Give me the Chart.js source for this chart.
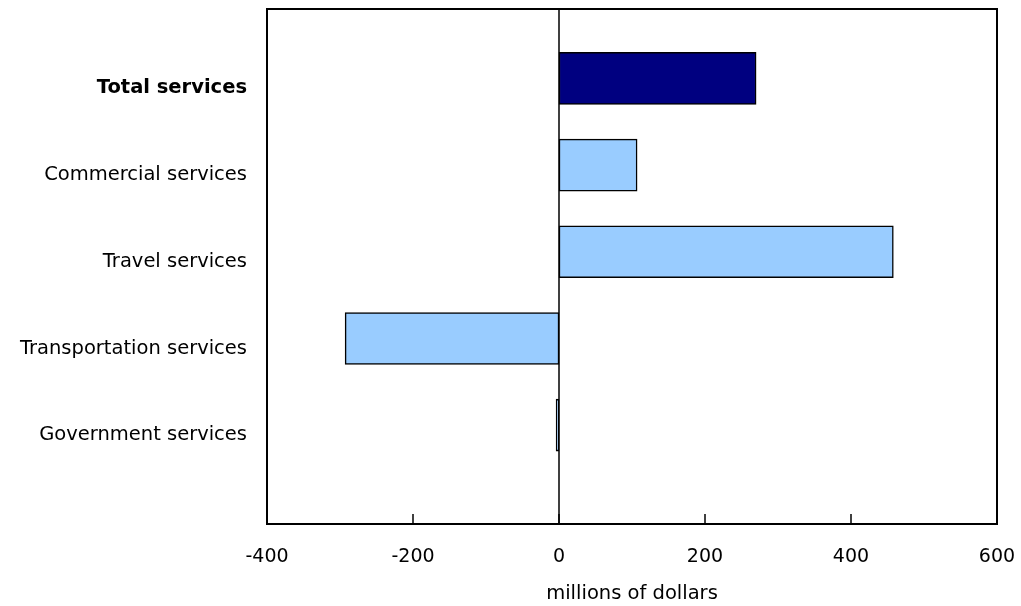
<!DOCTYPE html>
<html>
<head>
<meta charset="utf-8">
<script src="https://cdn.jsdelivr.net/npm/chart.js@4"></script>
<style>
  html, body { margin: 0; padding: 0; background: #fff; }
  #wrap { width: 1021px; height: 606px; }
</style>
</head>
<body>
<div id="wrap"><canvas id="servicesChart"></canvas></div>
<script>
const categories = ['Total services', 'Commercial services', 'Travel services', 'Transportation services', 'Government services'];
const values = [270, 107, 458, -293, -4];
const barColors = ['#000080', '#99ccff', '#99ccff', '#99ccff', '#99ccff'];
const xTicks = [-400, -200, 0, 200, 400, 600];
const axisTitle = 'millions of dollars';

const font = 'DejaVu Sans, Verdana, sans-serif';

// frame, zero line and inward tick marks
const framePlugin = {
    id: 'frame',
    afterDatasetsDraw(chart) {
        const { ctx, chartArea: a, scales } = chart;
        ctx.save();
        ctx.strokeStyle = '#000';
        ctx.lineWidth = 1.5;
        const x0 = scales.x.getPixelForValue(0);
        ctx.beginPath();
        ctx.moveTo(x0, a.top);
        ctx.lineTo(x0, a.bottom);
        ctx.stroke();
        xTicks.forEach(v => {
            if (v === xTicks[0] || v === xTicks[xTicks.length - 1]) return;
            const px = scales.x.getPixelForValue(v);
            ctx.beginPath();
            ctx.moveTo(px, a.bottom);
            ctx.lineTo(px, a.bottom - 10);
            ctx.stroke();
        });
        ctx.lineWidth = 2;
        ctx.strokeRect(a.left, a.top, a.right - a.left, a.bottom - a.top);
        ctx.restore();
    }
};

new Chart(document.getElementById('servicesChart'), {
    type: 'bar',
    data: {
        datasets: [{
            data: values.map((v, i) => ({ x: v, y: i })),
            backgroundColor: barColors,
            borderColor: '#000',
            borderWidth: 1.5,
            borderSkipped: false,
            barThickness: 52
        }]
    },
    options: {
        indexAxis: 'y',
        responsive: true,
        maintainAspectRatio: false,
        animation: false,
        layout: { padding: { top: 9, right: 24, left: 0, bottom: 0 } },
        plugins: { legend: { display: false }, tooltip: { enabled: false } },
        scales: {
            x: {
                type: 'linear',
                min: -400,
                max: 600,
                afterBuildTicks: s => { s.ticks = xTicks.map(v => ({ value: v })); },
                afterFit: s => { s.paddingLeft = 0; s.paddingRight = 0; s.height = 82; },
                grid: { display: false },
                border: { display: false },
                ticks: { color: '#000', font: { family: font, size: 19 }, padding: 14 },
                title: { display: true, text: axisTitle, color: '#000', font: { family: font, size: 19.5 }, padding: { top: 5, bottom: 0 } }
            },
            y: {
                type: 'linear',
                reverse: true,
                offset: false,
                min: -0.8,
                max: 5.14,
                afterBuildTicks: s => { s.ticks = categories.map((c, i) => ({ value: i })); },
                afterFit: s => { s.width = 267; s.paddingTop = 0; s.paddingBottom = 0; },
                grid: { display: false },
                border: { display: false },
                ticks: {
                    color: '#000',
                    padding: 12,
                    labelOffset: 10,
                    callback: v => categories[v],
                    font: ctx => ({ family: font, size: 19.5, weight: ctx.index === 0 ? 'bold' : 'normal' })
                }
            }
        }
    },
    plugins: [framePlugin]
});
</script>
</body>
</html>
